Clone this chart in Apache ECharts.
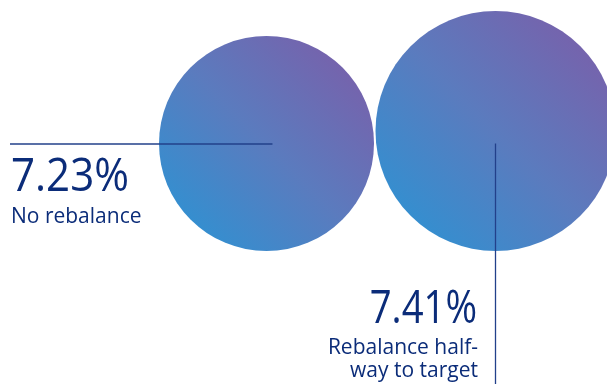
<!DOCTYPE html>
<html>
<head>
<meta charset="utf-8">
<script src="https://cdn.jsdelivr.net/npm/echarts@6/dist/echarts.min.js"></script>
<style>html,body{margin:0;padding:0;background:#fff}#c{width:607px;height:384px}</style>
</head>
<body>
<div id="c"></div>
<script>
// data
var categories = ['No rebalance', 'Rebalance half-way to target'];
var values = [7.23, 7.41];
var valueLabels = ['7.23%', '7.41%'];
var captionLines = [['No rebalance'], ['Rebalance half-', 'way to target']];

// styles / layout
var sizes = [215, 240];
var navy = '#0b2c79';
var lineColor = '#22408a';
var xMin = -1.1638, xMax = 1.4869;
var yMax = 9.2965, yMin = 3.767;

var grad = new echarts.graphic.LinearGradient(0, 1, 1, 0, [
  {offset: 0, color: '#2696d6'},
  {offset: 0.5, color: '#5b7bbe'},
  {offset: 1, color: '#7f5aa6'}
]);

var chart = echarts.init(document.getElementById('c'), null, {renderer: 'canvas'});
chart.setOption({
  animation: false,
  grid: {left: 0, right: 0, top: 0, bottom: 0},
  xAxis: {type: 'value', min: xMin, max: xMax, show: false},
  yAxis: {type: 'value', min: yMin, max: yMax, show: false},
  series: [{
    type: 'scatter',
    data: values.map(function (v, i) {
      return {name: categories[i], value: [i, v], symbolSize: sizes[i]};
    }),
    itemStyle: {color: grad, opacity: 1},
    silent: true,
    markLine: {
      silent: true,
      symbol: 'none',
      label: {show: false},
      lineStyle: {color: lineColor, type: 'solid', width: 1.5},
      data: [
        [{coord: [xMin + 10 / 229, values[0]]}, {coord: [0.026, values[0]]}],
        [{coord: [1, values[0]], lineStyle: {width: 1.3}}, {coord: [1, yMin]}]
      ]
    }
  }],
  graphic: [
    {type: 'text', x: 11, y: 156, scaleX: 0.935, style: {text: valueLabels[0], font: '45px "Open Sans"', fill: navy, verticalAlign: 'top'}},
    {type: 'text', x: 11, y: 207, style: {text: captionLines[0].join('\n'), font: '21px "Open Sans"', fill: navy, verticalAlign: 'top'}},
    {type: 'text', x: 477, y: 288, scaleX: 0.85, style: {text: valueLabels[1], font: '45px "Open Sans"', fill: navy, align: 'right', verticalAlign: 'top'}},
    {type: 'text', x: 478, y: 337, style: {text: captionLines[1].join('\n'), font: '21px "Open Sans"', fill: navy, align: 'right', verticalAlign: 'top', lineHeight: 23}}
  ]
});
</script>
</body>
</html>
